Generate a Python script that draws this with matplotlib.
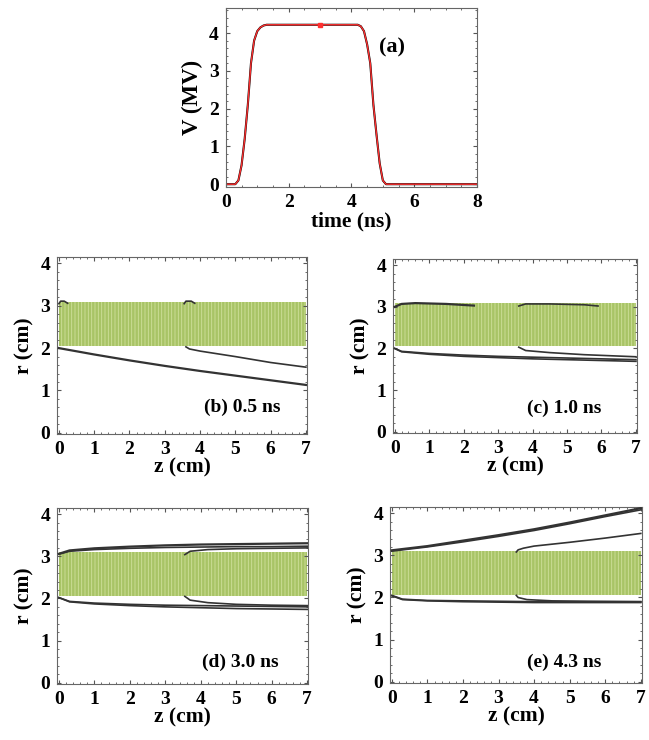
import matplotlib
matplotlib.use("Agg")
import matplotlib.pyplot as plt
from matplotlib.ticker import AutoMinorLocator

plt.rcParams['font.family'] = ['Liberation Serif', 'DejaVu Serif']
plt.rcParams['font.weight'] = 'bold'
plt.rcParams['hatch.linewidth'] = 0.6

# (a) voltage pulse
t_ns = [0, 0.3, 0.4, 0.5, 0.6, 0.7, 0.8, 0.9, 1.0, 1.1, 1.2, 1.3,
        4.2, 4.3, 4.4, 4.5, 4.6, 4.7, 4.8, 4.9, 5.0, 5.1, 8]
v_mv = [0, 0, 0.1, 0.5, 1.2, 2.1, 3.2, 3.8, 4.05, 4.15, 4.2, 4.22,
        4.22, 4.18, 4.05, 3.7, 3.2, 2.1, 1.3, 0.55, 0.1, 0, 0]
marker_t = [3.0]
marker_v = [4.22]

# green emitter band (cm)
band_z = [0, 7]
band_lo = 2.05
band_hi = 3.1

# electron beam envelopes per panel: list of (z, r) curves
b_curves = [
    ([0, 1, 2, 3, 4, 5, 6, 7], [2.0, 1.85, 1.71, 1.58, 1.46, 1.35, 1.24, 1.13]),
    ([3.6, 3.7, 4, 5, 6, 7], [2.03, 1.98, 1.93, 1.8, 1.66, 1.55]),
    ([0, 0.05, 0.15, 0.25], [3.05, 3.11, 3.11, 3.06]),
    ([3.55, 3.6, 3.75, 3.85], [3.05, 3.11, 3.11, 3.06]),
]
c_curves = [
    ([0, 0.2, 0.6, 1.5, 2.3], [3.0, 3.07, 3.09, 3.07, 3.03]),
    ([3.6, 3.8, 4.5, 5.5, 5.9], [3.02, 3.07, 3.07, 3.05, 3.02]),
    ([0, 0.2, 1, 2, 3, 4, 5, 6, 7], [2.0, 1.93, 1.88, 1.84, 1.81, 1.79, 1.77, 1.75, 1.73]),
    ([0, 0.2, 1, 2, 3, 4, 5, 6, 7], [2.0, 1.92, 1.86, 1.81, 1.78, 1.75, 1.73, 1.71, 1.69]),
    ([3.6, 3.8, 4.5, 5.5, 7], [2.03, 1.95, 1.9, 1.85, 1.8]),
]
d_curves = [
    ([0, 0.3, 1, 2, 3, 4, 5, 6, 7], [3.06, 3.14, 3.19, 3.23, 3.26, 3.28, 3.29, 3.3, 3.31]),
    ([0, 0.3, 1, 2, 3, 4, 5, 6, 7], [3.05, 3.12, 3.16, 3.19, 3.21, 3.22, 3.23, 3.23, 3.24]),
    ([3.55, 3.7, 4.2, 5, 6, 7], [3.04, 3.12, 3.16, 3.18, 3.19, 3.2]),
    ([0, 0.3, 1, 2, 3, 4, 5, 6, 7], [2.02, 1.93, 1.89, 1.86, 1.84, 1.83, 1.82, 1.81, 1.8]),
    ([0, 0.3, 1, 2, 3, 4, 5, 6, 7], [2.02, 1.92, 1.87, 1.83, 1.8, 1.78, 1.76, 1.75, 1.74]),
    ([3.55, 3.7, 4.2, 5, 6, 7], [2.05, 1.96, 1.9, 1.86, 1.84, 1.83]),
]
e_curves = [
    ([0, 1, 2, 3, 4, 5, 6, 7], [3.12, 3.22, 3.35, 3.48, 3.62, 3.78, 3.95, 4.12]),
    ([0, 1, 2, 3, 4, 5, 6, 7], [3.1, 3.2, 3.32, 3.45, 3.59, 3.75, 3.92, 4.08]),
    ([3.5, 3.55, 3.7, 4, 5, 6, 7], [3.08, 3.13, 3.17, 3.22, 3.31, 3.41, 3.52]),
    ([0, 0.3, 1, 2, 3, 4, 5, 6, 7], [2.05, 1.96, 1.93, 1.92, 1.91, 1.9, 1.9, 1.9, 1.9]),
    ([0, 0.3, 1, 2, 3, 4, 5, 6, 7], [2.04, 1.95, 1.92, 1.9, 1.89, 1.88, 1.88, 1.88, 1.88]),
    ([3.5, 3.55, 3.8, 4.5, 5.5, 7], [2.05, 2.0, 1.95, 1.92, 1.91, 1.9]),
]

panels = [
    ('(b) 0.5 ns', b_curves, [0.088, 0.4135, 0.385, 0.239], (0.74, 0.15)),
    ('(c) 1.0 ns', c_curves, [0.6055, 0.415, 0.376, 0.235], (0.70, 0.14)),
    ('(d) 3.0 ns', d_curves, [0.088, 0.0757, 0.387, 0.238], (0.73, 0.125)),
    ('(e) 4.3 ns', e_curves, [0.601, 0.077, 0.388, 0.238], (0.69, 0.12)),
]

TICK_FS = 14
LABEL_FS = 15.5


def style_axes(ax):
    ax.xaxis.set_minor_locator(AutoMinorLocator(5))
    ax.yaxis.set_minor_locator(AutoMinorLocator(5))
    ax.tick_params(which='both', direction='in', top=True, right=True, color='#555555')
    ax.tick_params(which='major', length=3, labelsize=TICK_FS, pad=5)
    ax.tick_params(which='minor', length=1.5)
    for s in ax.spines.values():
        s.set_color('#666666')
        s.set_linewidth(0.8)


fig = plt.figure(figsize=(6.49, 7.40), dpi=100)

ax = fig.add_axes([0.348, 0.747, 0.387, 0.242])
ax.plot(t_ns, v_mv, color='black', lw=1.5)
ax.plot(t_ns, v_mv, color='#ff3030', lw=1.0)
ax.plot(marker_t, marker_v, 's', color='#ff3030', ms=3)
ax.set_xlim(0, 8)
ax.set_ylim(-0.08, 4.66)
ax.set_xticks([0, 2, 4, 6, 8])
ax.set_yticks([0, 1, 2, 3, 4])
ax.set_xlabel('time (ns)', fontsize=LABEL_FS, fontweight='bold', labelpad=0)
ax.set_ylabel('V (MV)', fontsize=LABEL_FS + 1, fontweight='bold', labelpad=4)
ax.text(0.66, 0.78, '(a)', transform=ax.transAxes, fontsize=16,
        fontweight='bold', ha='center', va='center')
style_axes(ax)
ax.xaxis.set_minor_locator(AutoMinorLocator(4))

for label, curves, rect, pos in panels:
    ax = fig.add_axes(rect)
    ax.fill_between(band_z, band_lo, band_hi, facecolor='#a8c466',
                    edgecolor='#cfe09c', hatch='|||||', linewidth=0, zorder=1)
    for i, (z, r) in enumerate(curves):
        ax.plot(z, r, color='#333333', lw=1.6 if i == 0 else 1.2, zorder=3)
    ax.set_xlim(-0.05, 7.03)
    ax.set_ylim(-0.03, 4.15)
    ax.set_xticks(range(8))
    ax.set_yticks([0, 1, 2, 3, 4])
    ax.set_xlabel('z (cm)', fontsize=LABEL_FS, fontweight='bold', labelpad=0)
    ax.set_ylabel('r (cm)', fontsize=LABEL_FS, fontweight='bold', labelpad=4)
    ax.text(pos[0], pos[1], label, transform=ax.transAxes, fontsize=14,
            fontweight='bold', ha='center', va='center')
    style_axes(ax)

fig.savefig('out.png', dpi=100)
